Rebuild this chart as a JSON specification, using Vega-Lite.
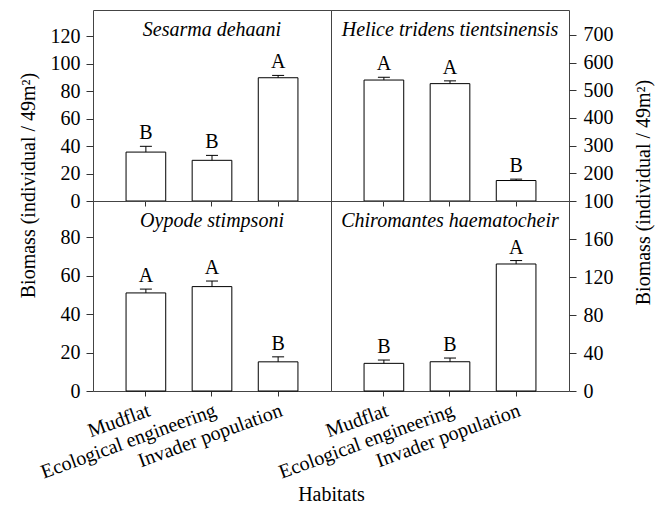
{
  "$schema": "https://vega.github.io/schema/vega-lite/v6.json",
  "padding": {"left": 17, "top": 9, "right": 2, "bottom": 0},
  "background": "white",
  "data": {"values": [
    {"species": "Sesarma dehaani", "habitat": "Mudflat", "mean": 35.6, "upper": 39.8, "letter": "B"},
    {"species": "Sesarma dehaani", "habitat": "Ecological engineering", "mean": 29.6, "upper": 33.2, "letter": "B"},
    {"species": "Sesarma dehaani", "habitat": "Invader population", "mean": 89.7, "upper": 91.4, "letter": "A"},
    {"species": "Helice tridens tientsinensis", "habitat": "Mudflat", "mean": 537, "upper": 547, "letter": "A"},
    {"species": "Helice tridens tientsinensis", "habitat": "Ecological engineering", "mean": 524, "upper": 534, "letter": "A"},
    {"species": "Helice tridens tientsinensis", "habitat": "Invader population", "mean": 174, "upper": 179, "letter": "B"},
    {"species": "Oypode stimpsoni", "habitat": "Mudflat", "mean": 51.1, "upper": 53.1, "letter": "A"},
    {"species": "Oypode stimpsoni", "habitat": "Ecological engineering", "mean": 54.4, "upper": 57.3, "letter": "A"},
    {"species": "Oypode stimpsoni", "habitat": "Invader population", "mean": 15.2, "upper": 17.8, "letter": "B"},
    {"species": "Chiromantes haematocheir", "habitat": "Mudflat", "mean": 29.1, "upper": 32.6, "letter": "B"},
    {"species": "Chiromantes haematocheir", "habitat": "Ecological engineering", "mean": 30.8, "upper": 34.7, "letter": "B"},
    {"species": "Chiromantes haematocheir", "habitat": "Invader population", "mean": 133.7, "upper": 137.3, "letter": "A"}
  ]},
  "columns": 2,
  "spacing": 0,
  "bounds": "flush",
  "resolve": {"scale": {"x": "independent", "y": "independent"}},
  "concat": [
    {
      "width": 238, "height": 191,
      "title": {"text": "Sesarma dehaani", "offset": -46, "baseline": "alphabetic"},
      "transform": [{"filter": "datum.species === 'Sesarma dehaani'"}],
      "resolve": {"axis": {"y": "independent"}},
      "encoding": {"x": {"field": "habitat", "type": "nominal", "sort": ["Mudflat", "Ecological engineering", "Invader population"], "scale": {"paddingInner": 0.4, "paddingOuter": 0.5}, "axis": {"labels": false, "title": null, "tickSize": 5}}},
      "layer": [
        {"mark": {"type": "bar", "fill": "white", "stroke": "black", "strokeWidth": 1},
         "encoding": {"y": {"field": "mean", "type": "quantitative", "scale": {"domain": [0, 139], "nice": false}, "axis": {"values": [0, 20, 40, 60, 80, 100, 120], "labelOverlap": false, "title": "Biomass (individual / 49m²)", "titleX": -65, "titleY": 175, "titleAngle": -90, "titleAlign": "center", "titleBaseline": "middle"}}}},
        {"mark": {"type": "rule", "color": "black"}, "encoding": {"y": {"field": "mean", "type": "quantitative", "axis": null}, "y2": {"field": "upper"}}},
        {"mark": {"type": "tick", "color": "black", "size": 12, "thickness": 1, "opacity": 1}, "encoding": {"y": {"field": "upper", "type": "quantitative", "axis": null}}},
        {"mark": {"type": "text", "baseline": "alphabetic", "dy": -7, "font": "Liberation Serif", "fontSize": 20, "color": "black"}, "encoding": {"y": {"field": "upper", "type": "quantitative", "axis": null}, "text": {"field": "letter"}}}
      ]
    },
    {
      "width": 238, "height": 191,
      "title": {"text": "Helice tridens tientsinensis", "offset": -46, "baseline": "alphabetic"},
      "transform": [{"filter": "datum.species === 'Helice tridens tientsinensis'"}],
      "resolve": {"axis": {"y": "independent"}},
      "encoding": {"x": {"field": "habitat", "type": "nominal", "sort": ["Mudflat", "Ecological engineering", "Invader population"], "scale": {"paddingInner": 0.4, "paddingOuter": 0.5}, "axis": {"labels": false, "title": null, "tickSize": 5}}},
      "layer": [
        {"mark": {"type": "bar", "fill": "white", "stroke": "black", "strokeWidth": 1},
         "encoding": {"y": {"field": "mean", "type": "quantitative", "scale": {"domain": [100, 790], "nice": false, "zero": false}, "axis": {"orient": "right", "values": [100, 200, 300, 400, 500, 600, 700], "labelOverlap": false, "labelPadding": 7, "title": "Biomass (individual / 49m²)", "titleX": 74, "titleY": 182, "titleAngle": -90, "titleAlign": "center", "titleBaseline": "middle"}}, "y2": {"datum": 100}}},
        {"mark": {"type": "rule", "color": "black"}, "encoding": {"y": {"field": "mean", "type": "quantitative", "axis": null}, "y2": {"field": "upper"}}},
        {"mark": {"type": "tick", "color": "black", "size": 12, "thickness": 1, "opacity": 1}, "encoding": {"y": {"field": "upper", "type": "quantitative", "axis": null}}},
        {"mark": {"type": "text", "baseline": "alphabetic", "dy": -7, "font": "Liberation Serif", "fontSize": 20, "color": "black"}, "encoding": {"y": {"field": "upper", "type": "quantitative", "axis": null}, "text": {"field": "letter"}}}
      ]
    },
    {
      "width": 238, "height": 190,
      "title": {"text": "Oypode stimpsoni", "offset": -46, "baseline": "alphabetic"},
      "transform": [{"filter": "datum.species === 'Oypode stimpsoni'"}],
      "resolve": {"axis": {"y": "independent"}},
      "encoding": {"x": {"field": "habitat", "type": "nominal", "sort": ["Mudflat", "Ecological engineering", "Invader population"], "scale": {"paddingInner": 0.4, "paddingOuter": 0.5}, "axis": {"labelAngle": -20, "labelAlign": "right", "labelBaseline": "top", "labelPadding": 4, "labelLimit": 0, "tickSize": 5, "title": "Habitats", "titleX": 238, "titleY": 109, "titleAlign": "center", "titleBaseline": "alphabetic"}}},
      "layer": [
        {"mark": {"type": "bar", "fill": "white", "stroke": "black", "strokeWidth": 1},
         "encoding": {"y": {"field": "mean", "type": "quantitative", "scale": {"domain": [0, 99], "nice": false}, "axis": {"values": [0, 20, 40, 60, 80], "labelOverlap": false, "title": null}}}},
        {"mark": {"type": "rule", "color": "black"}, "encoding": {"y": {"field": "mean", "type": "quantitative", "axis": null}, "y2": {"field": "upper"}}},
        {"mark": {"type": "tick", "color": "black", "size": 12, "thickness": 1, "opacity": 1}, "encoding": {"y": {"field": "upper", "type": "quantitative", "axis": null}}},
        {"mark": {"type": "text", "baseline": "alphabetic", "dy": -7, "font": "Liberation Serif", "fontSize": 20, "color": "black"}, "encoding": {"y": {"field": "upper", "type": "quantitative", "axis": null}, "text": {"field": "letter"}}}
      ]
    },
    {
      "width": 238, "height": 190,
      "title": {"text": "Chiromantes haematocheir", "offset": -46, "baseline": "alphabetic"},
      "transform": [{"filter": "datum.species === 'Chiromantes haematocheir'"}],
      "resolve": {"axis": {"y": "independent"}},
      "encoding": {"x": {"field": "habitat", "type": "nominal", "sort": ["Mudflat", "Ecological engineering", "Invader population"], "scale": {"paddingInner": 0.4, "paddingOuter": 0.5}, "axis": {"labelAngle": -20, "labelAlign": "right", "labelBaseline": "top", "labelPadding": 4, "labelLimit": 0, "tickSize": 5, "title": null}}},
      "layer": [
        {"mark": {"type": "bar", "fill": "white", "stroke": "black", "strokeWidth": 1},
         "encoding": {"y": {"field": "mean", "type": "quantitative", "scale": {"domain": [0, 200], "nice": false}, "axis": {"orient": "right", "labelPadding": 7, "labelOverlap": false, "values": [0, 40, 80, 120, 160], "title": null}}}},
        {"mark": {"type": "rule", "color": "black"}, "encoding": {"y": {"field": "mean", "type": "quantitative", "axis": null}, "y2": {"field": "upper"}}},
        {"mark": {"type": "tick", "color": "black", "size": 12, "thickness": 1, "opacity": 1}, "encoding": {"y": {"field": "upper", "type": "quantitative", "axis": null}}},
        {"mark": {"type": "text", "baseline": "alphabetic", "dy": -7, "font": "Liberation Serif", "fontSize": 20, "color": "black"}, "encoding": {"y": {"field": "upper", "type": "quantitative", "axis": null}, "text": {"field": "letter"}}}
      ]
    }
  ],
  "config": {
    "font": "Liberation Serif",
    "view": {"stroke": "#444", "strokeWidth": 1},
    "axis": {"labelFont": "Liberation Serif", "labelFontSize": 20, "labelColor": "black", "labelOverlap": false, "titleFont": "Liberation Serif", "titleFontSize": 20, "titleFontWeight": "normal", "titleColor": "black", "domain": false, "grid": false, "tickColor": "#333", "tickSize": 7, "labelPadding": 6},
    "title": {"font": "Liberation Serif", "fontSize": 20, "fontStyle": "italic", "fontWeight": "normal", "color": "black", "anchor": "middle"}
  }
}
